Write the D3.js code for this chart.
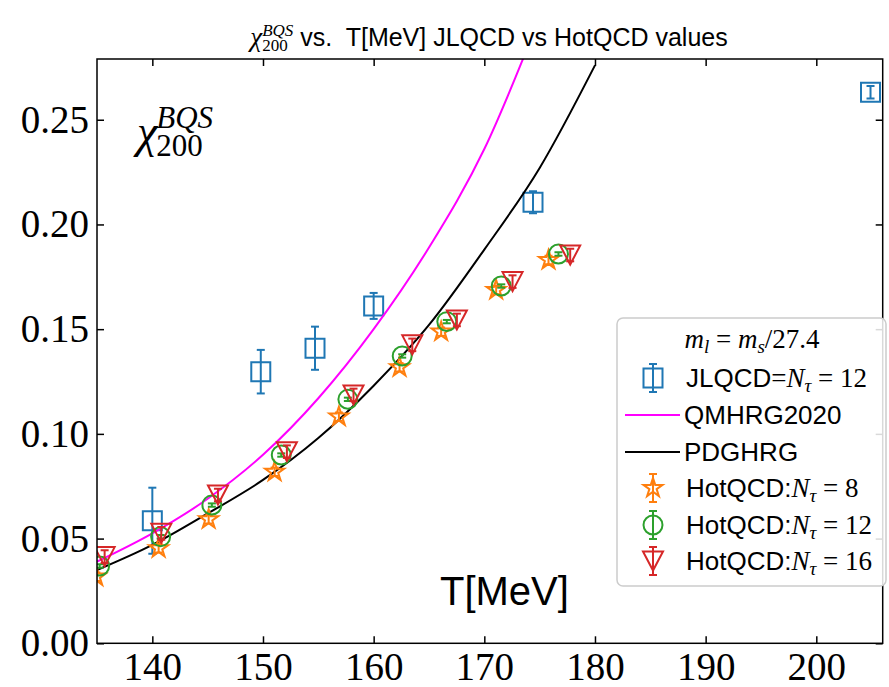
<!DOCTYPE html>
<html>
<head>
<meta charset="utf-8">
<title>chi200 BQS vs T</title>
<script src="https://cdnjs.cloudflare.com/ajax/libs/d3/7.8.5/d3.min.js"></script>
<style>
  body { margin: 0; background: #fff; }
</style>
</head>
<body>
<div id="chart"></div>
<script>
// JLQCD, N_tau = 12
const jlqcdT   = [140, 149.8, 154.7, 160, 174.4, 204.9];
const jlqcdVal = [0.0585, 0.1297, 0.1409, 0.1611, 0.2106, 0.2631];
const jlqcdErr = [0.0158, 0.0104, 0.0103, 0.0062, 0.0052, 0.003];

// HRG curves
const qmhrgT   = [135, 140, 145, 150, 155, 160, 165, 170, 175];
const qmhrgVal = [0.039, 0.0525, 0.069, 0.090, 0.117, 0.150, 0.189, 0.236, 0.299];
const pdgT     = [135, 140, 145, 150, 155, 160, 165, 170, 175, 180];
const pdgVal   = [0.035, 0.047, 0.062, 0.078, 0.098, 0.123, 0.152, 0.188, 0.227, 0.276];

// HotQCD
const hot8T   = [134.94, 140.57, 145.09, 151.05, 156.86, 162.34, 166.1, 171.07, 175.8];
const hot8Val = [0.0318, 0.0454, 0.0592, 0.0819, 0.1082, 0.1318, 0.1488, 0.1687, 0.1830];
const hot8Err = [0.002, 0.002, 0.002, 0.002, 0.002, 0.002, 0.002, 0.002, 0.002];

const hot12T   = [135.24, 140.75, 145.38, 151.65, 157.67, 162.58, 166.61, 171.53, 176.7];
const hot12Val = [0.0369, 0.0509, 0.0660, 0.0899, 0.1165, 0.1372, 0.1536, 0.1706, 0.1859];
const hot12Err = [0.0008, 0.0008, 0.0008, 0.0008, 0.0008, 0.0008, 0.0008, 0.0008, 0.0008];

const hot16T   = [135.69, 140.81, 145.93, 152.16, 158.18, 163.49, 167.52, 172.55, 177.76];
const hot16Val = [0.0414, 0.0525, 0.0708, 0.0915, 0.1186, 0.1425, 0.1544, 0.1727, 0.1854];
const hot16Err = [0.003, 0.003, 0.003, 0.003, 0.003, 0.003, 0.003, 0.003, 0.003];

const xTicks = [140, 150, 160, 170, 180, 190, 200];
const yTicks = [0, 0.05, 0.10, 0.15, 0.20, 0.25];

const blue = '#1f77b4', orange = '#ff7f0e', green = '#2ca02c', red = '#d62728';
const SERIF = 'Liberation Serif', SANS = 'Liberation Sans';

const W = 889, H = 687;
const svg = d3.select('#chart').append('svg')
  .attr('width', W).attr('height', H);

const x = d3.scaleLinear().domain([135, 206]).range([97, 882.7]);
const y = d3.scaleLinear().domain([0, 0.279]).range([643.3, 59]);

svg.append('clipPath').attr('id', 'plotclip')
  .append('rect')
  .attr('x', x(135)).attr('y', y(0.279))
  .attr('width', x(206) - x(135)).attr('height', y(0) - y(0.279));

// axes, ticks pointing inwards on all four sides
function styleAxis(g) {
  g.select('.domain').remove();
  g.selectAll('line').attr('stroke', '#000').attr('stroke-width', 1.5);
  g.selectAll('text')
    .attr('font-family', SERIF).attr('font-size', 39).attr('fill', '#000');
}
svg.append('g').attr('transform', `translate(0,${y(0)})`)
  .call(d3.axisBottom(x).tickValues(xTicks).tickFormat(d3.format('d'))
    .tickSizeInner(-7).tickSizeOuter(0).tickPadding(9))
  .call(styleAxis);
svg.append('g').attr('transform', `translate(${x(135)},0)`)
  .call(d3.axisLeft(y).tickValues(yTicks).tickFormat(d3.format('.2f'))
    .tickSizeInner(-7).tickSizeOuter(0).tickPadding(8))
  .call(styleAxis);
svg.append('g').attr('transform', `translate(0,${y(0.279)})`)
  .call(d3.axisTop(x).tickValues(xTicks).tickFormat('')
    .tickSizeInner(-7).tickSizeOuter(0))
  .call(styleAxis);
svg.append('g').attr('transform', `translate(${x(206)},0)`)
  .call(d3.axisRight(y).tickValues(yTicks).tickFormat('')
    .tickSizeInner(-7).tickSizeOuter(0))
  .call(styleAxis);

const plot = svg.append('g').attr('clip-path', 'url(#plotclip)');

// marker shapes
const squarePath = d3.symbol(d3.symbolSquare, 361)();
const circlePath = d3.symbol(d3.symbolCircle, 283)();
const starPath = d3.symbol(d3.symbolStar, 112)();
const triPath = 'M0,9.5L-10,-9.5L10,-9.5Z';

function errorBars(g, T, V, E, color, cap, width) {
  const idx = d3.range(T.length);
  const eb = g.append('g').attr('stroke', color).attr('stroke-width', width);
  eb.selectAll('.v').data(idx).join('line').attr('class', 'v')
    .attr('x1', i => x(T[i])).attr('x2', i => x(T[i]))
    .attr('y1', i => y(V[i] - E[i])).attr('y2', i => y(V[i] + E[i]));
  eb.selectAll('.lo').data(idx).join('line').attr('class', 'lo')
    .attr('x1', i => x(T[i]) - cap).attr('x2', i => x(T[i]) + cap)
    .attr('y1', i => y(V[i] - E[i])).attr('y2', i => y(V[i] - E[i]));
  eb.selectAll('.hi').data(idx).join('line').attr('class', 'hi')
    .attr('x1', i => x(T[i]) - cap).attr('x2', i => x(T[i]) + cap)
    .attr('y1', i => y(V[i] + E[i])).attr('y2', i => y(V[i] + E[i]));
}

function markers(g, T, V, path, color) {
  g.append('g').selectAll('path').data(d3.range(T.length)).join('path')
    .attr('d', path)
    .attr('transform', i => `translate(${x(T[i])},${y(V[i])})`)
    .attr('fill', 'none').attr('stroke', color).attr('stroke-width', 2);
}

// JLQCD
errorBars(plot, jlqcdT, jlqcdVal, jlqcdErr, blue, 4, 2);
markers(plot, jlqcdT, jlqcdVal, squarePath, blue);

// HRG lines
const line = d3.line().x(d => x(d[0])).y(d => y(d[1])).curve(d3.curveMonotoneX);
plot.append('path').datum(d3.zip(qmhrgT, qmhrgVal)).attr('d', line)
  .attr('fill', 'none').attr('stroke', '#ff00ff').attr('stroke-width', 2);
plot.append('path').datum(d3.zip(pdgT, pdgVal)).attr('d', line)
  .attr('fill', 'none').attr('stroke', '#000').attr('stroke-width', 2);

// HotQCD
errorBars(plot, hot8T, hot8Val, hot8Err, orange, 4, 2);
markers(plot, hot8T, hot8Val, starPath, orange);
errorBars(plot, hot12T, hot12Val, hot12Err, green, 4, 2);
markers(plot, hot12T, hot12Val, circlePath, green);
errorBars(plot, hot16T, hot16Val, hot16Err, red, 4, 2);
markers(plot, hot16T, hot16Val, triPath, red);

// frame
svg.append('rect')
  .attr('x', x(135)).attr('y', y(0.279))
  .attr('width', x(206) - x(135)).attr('height', y(0) - y(0.279))
  .attr('fill', 'none').attr('stroke', '#000').attr('stroke-width', 1.5);

// rich text: runs flow left to right; a run with stack:true goes back over the previous run
function richText(parent, px, py, runs, anchor) {
  const t = parent.append('text').attr('x', px).attr('y', py)
    .attr('text-anchor', anchor || 'start').attr('fill', '#000');
  let prev = null;
  runs.forEach(r => {
    const ts = t.append('tspan').text(r.t)
      .attr('font-family', r.f === 'sans' ? SANS : SERIF)
      .attr('font-style', r.f === 'it' ? 'italic' : 'normal')
      .attr('font-size', r.s)
      .attr('dy', r.dy || 0);
    if (r.stack && prev) ts.attr('dx', -prev.node().getComputedTextLength());
    else if (r.dx) ts.attr('dx', r.dx);
    ts.style('white-space', 'pre');
    prev = ts;
  });
  return t;
}

// title
richText(svg, 489, 46, [
  { t: 'χ', f: 'it', s: 27 },
  { t: '200', f: 'serif', s: 17, dy: 5 },
  { t: 'BQS', f: 'it', s: 17, dy: -15, stack: true },
  { t: ' vs.  T[MeV] JLQCD vs HotQCD values', f: 'sans', s: 25, dy: 10 }
], 'middle');

// big label in the plot
richText(svg, 137, 147, [
  { t: 'χ', f: 'it', s: 46 },
  { t: '200', f: 'serif', s: 31, dy: 9, dx: -1 },
  { t: 'BQS', f: 'it', s: 31, dy: -28, stack: true }
]);

svg.append('text').attr('x', 440).attr('y', 605)
  .attr('font-family', SANS).attr('font-size', 40).attr('fill', '#000')
  .text('T[MeV]');

// legend
const lg = svg.append('g');
lg.append('rect').attr('x', 617).attr('y', 318).attr('width', 269).attr('height', 268)
  .attr('rx', 6).attr('fill', '#fff').attr('fill-opacity', 0.85)
  .attr('stroke', '#cccccc').attr('stroke-width', 1.5);

richText(lg, 752, 348, [
  { t: 'm', f: 'it', s: 27 },
  { t: 'l', f: 'it', s: 19, dy: 5 },
  { t: ' = ', f: 'serif', s: 27, dy: -5 },
  { t: 'm', f: 'it', s: 27 },
  { t: 's', f: 'it', s: 19, dy: 5 },
  { t: '/27.4', f: 'serif', s: 27, dy: -5 }
], 'middle');

const hx = 653, tx = 686;
const rowY = [378, 415, 452, 488, 525, 561];
const legendRows = [
  { label: 'JLQCD', eq: '=', n: '12', color: blue, shape: squarePath },
  { label: 'QMHRG2020', color: '#ff00ff' },
  { label: 'PDGHRG', color: '#000' },
  { label: 'HotQCD:', eq: '', n: '8', color: orange, shape: starPath },
  { label: 'HotQCD:', eq: '', n: '12', color: green, shape: circlePath },
  { label: 'HotQCD:', eq: '', n: '16', color: red, shape: triPath }
];
legendRows.forEach((r, i) => {
  const cy = rowY[i];
  if (r.shape) {
    const h = lg.append('g').attr('stroke', r.color).attr('stroke-width', 2);
    h.append('line').attr('x1', hx).attr('x2', hx).attr('y1', cy - 14).attr('y2', cy + 14);
    h.append('line').attr('x1', hx - 4).attr('x2', hx + 4).attr('y1', cy - 14).attr('y2', cy - 14);
    h.append('line').attr('x1', hx - 4).attr('x2', hx + 4).attr('y1', cy + 14).attr('y2', cy + 14);
    h.append('path').attr('d', r.shape).attr('transform', `translate(${hx},${cy})`)
      .attr('fill', 'none');
    richText(lg, tx, cy + 9, [
      { t: r.label, f: 'sans', s: 26 },
      { t: r.eq, f: 'serif', s: 27 },
      { t: 'N', f: 'it', s: 27 },
      { t: 'τ', f: 'it', s: 19, dy: 5 },
      { t: ' = ' + r.n, f: 'serif', s: 27, dy: -5 }
    ]);
  } else {
    lg.append('line').attr('x1', 625).attr('x2', 680).attr('y1', cy).attr('y2', cy)
      .attr('stroke', r.color).attr('stroke-width', 2);
    richText(lg, tx - 2, cy + 9, [{ t: r.label, f: 'sans', s: 26 }]);
  }
});
</script>
</body>
</html>
